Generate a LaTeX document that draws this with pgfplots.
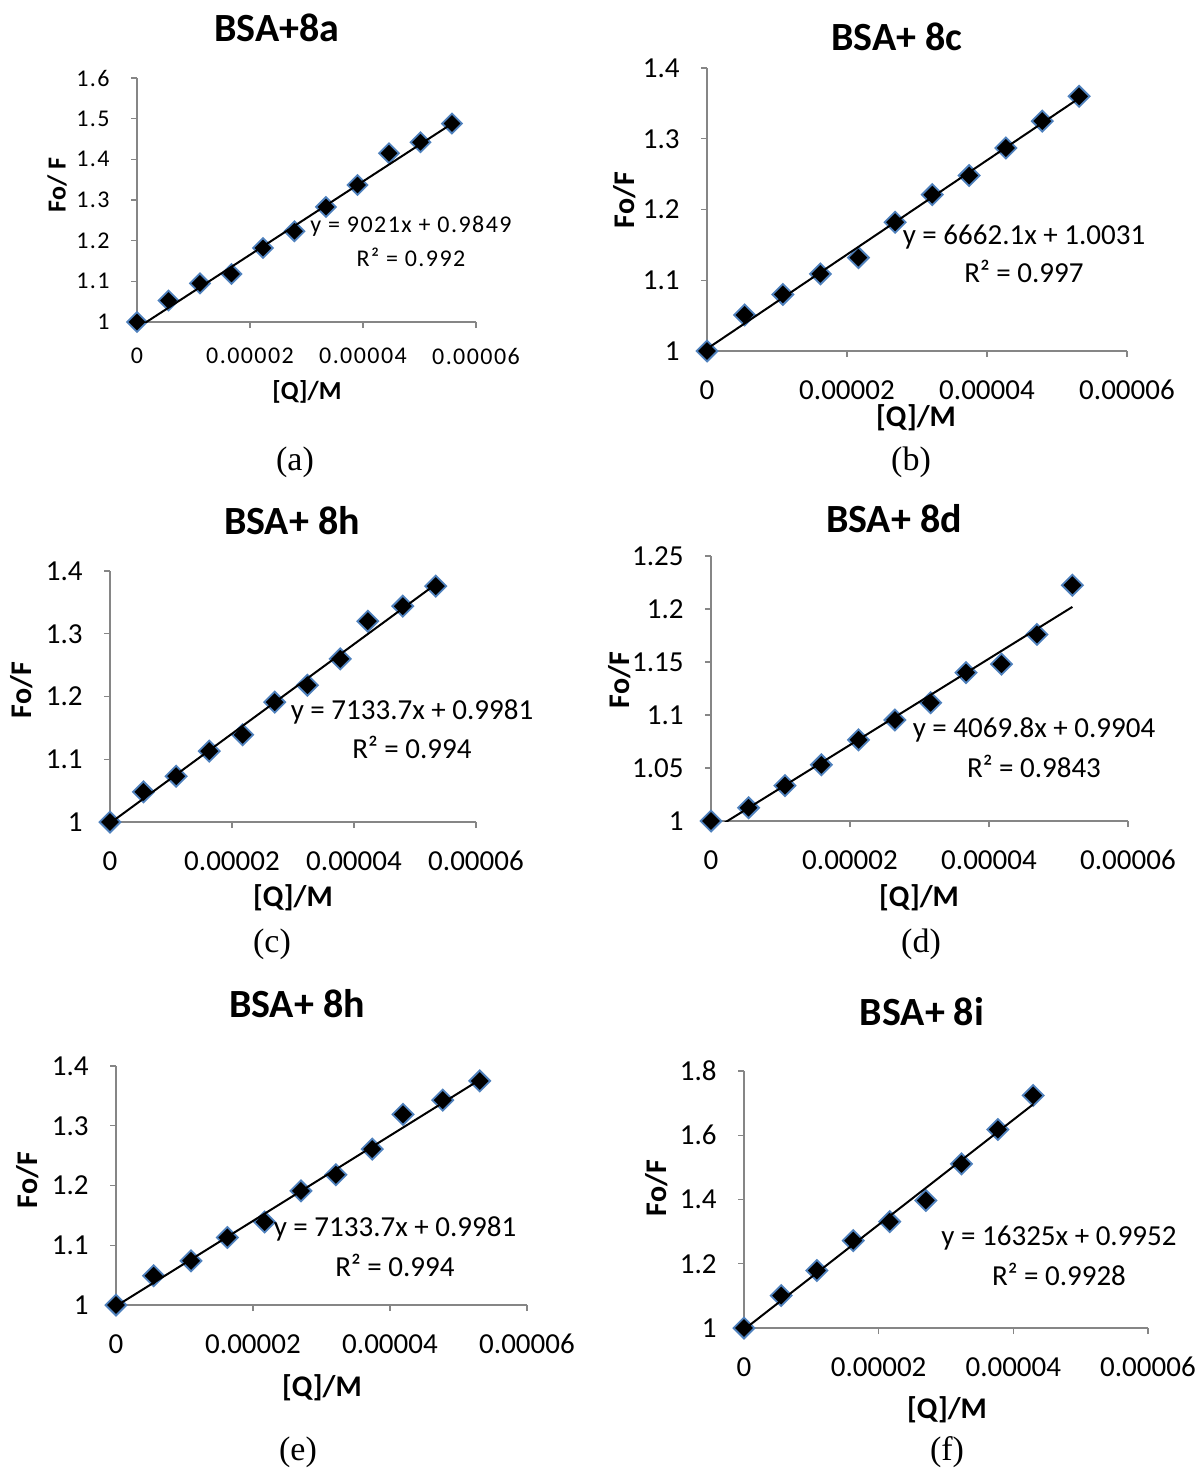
\documentclass[border=0pt]{standalone}
\usepackage{fontspec}
\setmainfont{Carlito}
\newfontfamily\seriff{Liberation Serif}
\newfontfamily\spaced[LetterSpace=6]{Carlito}
\usepackage{pgfplots}
\pgfplotsset{compat=1.18}
\definecolor{axgray}{HTML}{868686}
\definecolor{mkblue}{HTML}{4F81BD}
\pgfplotsset{
  excel/.style={
    scale only axis,
    anchor=south west,
    axis lines=left,
    axis line style={-, draw=axgray, line width=0.6pt},
    tick align=outside,
    major tick length=3pt,
    tick style={draw=axgray, line width=0.6pt},
    xmin=0, xmax=6e-5,
    xtick={0,2e-5,4e-5,6e-5},
    xticklabels={0,0.00002,0.00004,0.00006},
    scaled x ticks=false,
    clip mode=individual,
    xticklabel style={anchor=center},
    yticklabel style={anchor=east, inner xsep=0pt, xshift=-10.5pt},
    tick label style={font=\fontsize{14.5}{17}\selectfont},
  },
  pts/.style={only marks, mark=square*, mark size=3.7pt,
    mark options={rotate=45, fill=black, draw=mkblue, line width=0.9pt}},
  fit/.style={black, line width=1pt, no marks},
}
\tikzset{
  ttl/.style={font=\bfseries\fontsize{20}{24}\selectfont},
  lab/.style={font=\bfseries\fontsize{15}{18}\selectfont},
  eqn/.style={font=\fontsize{14.5}{17}\selectfont},
  let/.style={font=\seriff\fontsize{17}{20}\selectfont},
}
\begin{document}
\begin{tikzpicture}
\path[use as bounding box] (0pt,0pt) rectangle (599.5pt,-734.5pt);

% (a)
\begin{axis}[excel, at={(68.5pt,-161pt)}, width=169.5pt, height=122pt,
  ymin=1, ymax=1.6, ytick={1,1.1,1.2,1.3,1.4,1.5,1.6},
  yticklabels={1,1.1,1.2,1.3,1.4,1.5,1.6},
  tick label style={font=\spaced\fontsize{12}{14}\selectfont},
  xticklabel style={yshift=-14pt}]
\addplot[pts, mark size=3.5pt] coordinates {(0,1.000) (5.575e-6,1.053) (1.115e-5,1.095) (1.6725e-5,1.118) (2.23e-5,1.182) (2.7875e-5,1.223) (3.345e-5,1.283) (3.9025e-5,1.337) (4.46e-5,1.415) (5.0175e-5,1.442) (5.575e-5,1.488)};
\addplot[fit] coordinates {(0,0.9849) (5.575e-5,1.4878)};
\end{axis}
\node[ttl] at (138.5pt,-14pt) {BSA+8a};
\node[font=\bfseries\fontsize{13}{16}\selectfont] at (153.5pt,-196pt) {[Q]/M};
\node[font=\bfseries\fontsize{13}{16}\selectfont, rotate=90] at (28.5pt,-92.5pt) {Fo/ F};
\node[font=\spaced\fontsize{12}{14}\selectfont] at (205.5pt,-113pt) {y = 9021x + 0.9849};
\node[font=\spaced\fontsize{12}{14}\selectfont] at (205.5pt,-128.5pt) {R² = 0.992};
\node[let] at (147.5pt,-231pt) {(a)};

% (b)
\begin{axis}[excel, at={(353.5pt,-175.5pt)}, width=210pt, height=141.5pt,
  ymin=1, ymax=1.4, ytick={1,1.1,1.2,1.3,1.4},
  yticklabels={1,1.1,1.2,1.3,1.4},
  xticklabel style={yshift=-16.5pt}]
\addplot[pts] coordinates {(0,1.000) (5.37e-6,1.051) (1.084e-5,1.080) (1.62e-5,1.109) (2.163e-5,1.132) (2.688e-5,1.182) (3.219e-5,1.221) (3.745e-5,1.248) (4.27e-5,1.287) (4.79e-5,1.325) (5.316e-5,1.360)};
\addplot[fit] coordinates {(0,1.0031) (5.316e-5,1.3573)};
\end{axis}
\node[ttl] at (448.5pt,-18.5pt) {BSA+ 8c};
\node[lab] at (458pt,-209pt) {[Q]/M};
\node[lab, rotate=90] at (312.5pt,-100pt) {Fo/F};
\node[eqn] at (512pt,-118.5pt) {y = 6662.1x + 1.0031};
\node[eqn] at (512pt,-135.5pt) {R² = 0.997};
\node[let] at (455.5pt,-231pt) {(b)};

% (c)
\begin{axis}[excel, at={(55pt,-411pt)}, width=183pt, height=125.5pt,
  ymin=1, ymax=1.4, ytick={1,1.1,1.2,1.3,1.4},
  yticklabels={1,1.1,1.2,1.3,1.4},
  xticklabel style={yshift=-16.5pt}]
\addplot[pts] coordinates {(0,1.000) (5.48e-6,1.048) (1.085e-5,1.073) (1.627e-5,1.113) (2.175e-5,1.139) (2.70e-5,1.191) (3.237e-5,1.218) (3.774e-5,1.260) (4.226e-5,1.320) (4.80e-5,1.344) (5.34e-5,1.376)};
\addplot[fit] coordinates {(0,0.9981) (5.34e-5,1.3790)};
\end{axis}
\node[ttl] at (146pt,-260.5pt) {BSA+ 8h};
\node[lab] at (146.5pt,-449pt) {[Q]/M};
\node[lab, rotate=90] at (11pt,-345pt) {Fo/F};
\node[eqn] at (206pt,-356pt) {y = 7133.7x + 0.9981};
\node[eqn] at (206pt,-373.5pt) {R² = 0.994};
\node[let] at (136pt,-472pt) {(c)};

% (d)
\begin{axis}[excel, at={(355.5pt,-410.5pt)}, width=208.5pt, height=132.5pt,
  ymin=1, ymax=1.25, ytick={1,1.05,1.1,1.15,1.2,1.25},
  yticklabels={1,1.05,1.1,1.15,1.2,1.25},
  xticklabel style={yshift=-16.5pt}]
\addplot[pts] coordinates {(0,1.000) (5.40e-6,1.0125) (1.064e-5,1.0334) (1.588e-5,1.053) (2.123e-5,1.0766) (2.647e-5,1.0953) (3.16e-5,1.1116) (3.67e-5,1.140) (4.18e-5,1.148) (4.69e-5,1.176) (5.20e-5,1.2225)};
\addplot[fit] coordinates {(0,0.9904) (5.20e-5,1.2020)};
\end{axis}
\node[ttl] at (447pt,-259.5pt) {BSA+ 8d};
\node[lab] at (459.5pt,-449pt) {[Q]/M};
\node[lab, rotate=90] at (310pt,-340pt) {Fo/F};
\node[eqn] at (517pt,-365pt) {y = 4069.8x + 0.9904};
\node[eqn] at (517pt,-383pt) {R² = 0.9843};
\node[let] at (460.5pt,-472pt) {(d)};

% (e)
\begin{axis}[excel, at={(58pt,-652.5pt)}, width=205.5pt, height=119.5pt,
  ymin=1, ymax=1.4, ytick={1,1.1,1.2,1.3,1.4},
  yticklabels={1,1.1,1.2,1.3,1.4},
  xticklabel style={yshift=-16.5pt}]
\addplot[pts] coordinates {(0,1.000) (5.50e-6,1.049) (1.095e-5,1.074) (1.625e-5,1.113) (2.17e-5,1.139) (2.70e-5,1.191) (3.21e-5,1.218) (3.74e-5,1.261) (4.19e-5,1.319) (4.77e-5,1.343) (5.31e-5,1.375)};
\addplot[fit] coordinates {(0,0.9981) (5.31e-5,1.3769)};
\end{axis}
\node[ttl] at (148.5pt,-502pt) {BSA+ 8h};
\node[lab] at (161pt,-694pt) {[Q]/M};
\node[lab, rotate=90] at (14pt,-590pt) {Fo/F};
\node[eqn] at (197.5pt,-614.5pt) {y = 7133.7x + 0.9981};
\node[eqn] at (197.5pt,-632.5pt) {R² = 0.994};
\node[let] at (149pt,-726pt) {(e)};

% (f)
\begin{axis}[excel, at={(372pt,-664pt)}, width=202pt, height=128.5pt,
  ymin=1, ymax=1.8, ytick={1,1.2,1.4,1.6,1.8},
  yticklabels={1,1.2,1.4,1.6,1.8},
  xticklabel style={yshift=-16.5pt}]
\addplot[pts] coordinates {(0,1.000) (5.52e-6,1.101) (1.082e-5,1.179) (1.623e-5,1.272) (2.164e-5,1.331) (2.70e-5,1.397) (3.23e-5,1.511) (3.77e-5,1.618) (4.295e-5,1.724)};
\addplot[fit] coordinates {(0,0.9952) (4.295e-5,1.6964)};
\end{axis}
\node[ttl] at (461pt,-506pt) {BSA+ 8i};
\node[lab] at (473.5pt,-705pt) {[Q]/M};
\node[lab, rotate=90] at (328.5pt,-594pt) {Fo/F};
\node[eqn] at (529.5pt,-619pt) {y = 16325x + 0.9952};
\node[eqn] at (529.5pt,-637pt) {R² = 0.9928};
\node[let] at (473.5pt,-726pt) {(f)};
\end{tikzpicture}
\end{document}
